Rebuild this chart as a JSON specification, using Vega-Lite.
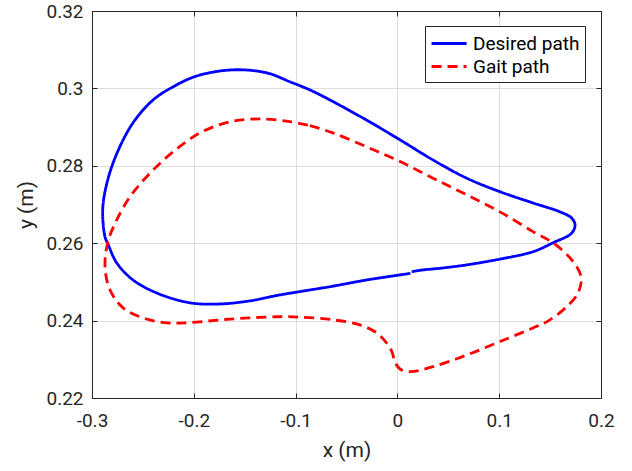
{
  "$schema": "https://vega.github.io/schema/vega-lite/v6.json",
  "width": 509,
  "height": 387,
  "autosize": {"type": "none"},
  "padding": {"left": 92, "top": 11, "right": 31, "bottom": 73},
  "background": "white",
  "config": {
    "view": {"stroke": null},
    "font": "Roboto",
    "axis": {
      "domainColor": "#262626",
      "domainWidth": 1,
      "tickColor": "#262626",
      "tickWidth": 1,
      "tickSize": -5,
      "labelColor": "#262626",
      "labelFont": "Roboto",
      "labelFontSize": 19,
      "titleFont": "Roboto",
      "titleFontSize": 21,
      "titleFontWeight": "normal",
      "titleColor": "#262626",
      "gridColor": "#dedede",
      "gridWidth": 1
    }
  },
  "data": {
    "values": [
      {"series": "Desired path", "i": 0, "x": 0.0140, "y": 0.2526},
      {"series": "Desired path", "i": 1, "x": 0.0222, "y": 0.2530},
      {"series": "Desired path", "i": 2, "x": 0.0448, "y": 0.2536},
      {"series": "Desired path", "i": 3, "x": 0.0681, "y": 0.2544},
      {"series": "Desired path", "i": 4, "x": 0.1008, "y": 0.2559},
      {"series": "Desired path", "i": 5, "x": 0.1332, "y": 0.2578},
      {"series": "Desired path", "i": 6, "x": 0.1528, "y": 0.2601},
      {"series": "Desired path", "i": 7, "x": 0.1712, "y": 0.2626},
      {"series": "Desired path", "i": 8, "x": 0.1745, "y": 0.2647},
      {"series": "Desired path", "i": 9, "x": 0.1712, "y": 0.2665},
      {"series": "Desired path", "i": 10, "x": 0.1597, "y": 0.2681},
      {"series": "Desired path", "i": 11, "x": 0.1332, "y": 0.2704},
      {"series": "Desired path", "i": 12, "x": 0.1008, "y": 0.2733},
      {"series": "Desired path", "i": 13, "x": 0.0681, "y": 0.2768},
      {"series": "Desired path", "i": 14, "x": 0.035, "y": 0.2815},
      {"series": "Desired path", "i": 15, "x": 0.0026, "y": 0.2867},
      {"series": "Desired path", "i": 16, "x": -0.0302, "y": 0.2918},
      {"series": "Desired path", "i": 17, "x": -0.0662, "y": 0.297},
      {"series": "Desired path", "i": 18, "x": -0.0859, "y": 0.2996},
      {"series": "Desired path", "i": 19, "x": -0.1055, "y": 0.3017},
      {"series": "Desired path", "i": 20, "x": -0.1281, "y": 0.304},
      {"series": "Desired path", "i": 21, "x": -0.1615, "y": 0.3048},
      {"series": "Desired path", "i": 22, "x": -0.1972, "y": 0.3032},
      {"series": "Desired path", "i": 23, "x": -0.2204, "y": 0.3004},
      {"series": "Desired path", "i": 24, "x": -0.2401, "y": 0.297},
      {"series": "Desired path", "i": 25, "x": -0.2597, "y": 0.2911},
      {"series": "Desired path", "i": 26, "x": -0.2754, "y": 0.2833},
      {"series": "Desired path", "i": 27, "x": -0.2853, "y": 0.2756},
      {"series": "Desired path", "i": 28, "x": -0.2895, "y": 0.2686},
      {"series": "Desired path", "i": 29, "x": -0.2872, "y": 0.2616},
      {"series": "Desired path", "i": 30, "x": -0.2843, "y": 0.2598},
      {"series": "Desired path", "i": 31, "x": -0.2757, "y": 0.2549},
      {"series": "Desired path", "i": 32, "x": -0.2597, "y": 0.2505},
      {"series": "Desired path", "i": 33, "x": -0.2361, "y": 0.2471},
      {"series": "Desired path", "i": 34, "x": -0.2037, "y": 0.2446},
      {"series": "Desired path", "i": 35, "x": -0.1743, "y": 0.2443},
      {"series": "Desired path", "i": 36, "x": -0.1448, "y": 0.2451},
      {"series": "Desired path", "i": 37, "x": -0.1183, "y": 0.2465},
      {"series": "Desired path", "i": 38, "x": -0.0957, "y": 0.2475},
      {"series": "Desired path", "i": 39, "x": -0.0633, "y": 0.2489},
      {"series": "Desired path", "i": 40, "x": -0.0302, "y": 0.2505},
      {"series": "Desired path", "i": 41, "x": 0.0128, "y": 0.2522},
      {"series": "Gait path", "i": 0, "x": -0.0859, "y": 0.2904},
      {"series": "Gait path", "i": 1, "x": -0.0633, "y": 0.2885},
      {"series": "Gait path", "i": 2, "x": -0.0302, "y": 0.2849},
      {"series": "Gait path", "i": 3, "x": 0.0026, "y": 0.2811},
      {"series": "Gait path", "i": 4, "x": 0.035, "y": 0.2768},
      {"series": "Gait path", "i": 5, "x": 0.0681, "y": 0.2725},
      {"series": "Gait path", "i": 6, "x": 0.1008, "y": 0.2681},
      {"series": "Gait path", "i": 7, "x": 0.1332, "y": 0.263},
      {"series": "Gait path", "i": 8, "x": 0.1528, "y": 0.2601},
      {"series": "Gait path", "i": 9, "x": 0.1712, "y": 0.2557},
      {"series": "Gait path", "i": 10, "x": 0.1804, "y": 0.2513},
      {"series": "Gait path", "i": 11, "x": 0.1774, "y": 0.2471},
      {"series": "Gait path", "i": 12, "x": 0.1663, "y": 0.2436},
      {"series": "Gait path", "i": 13, "x": 0.1499, "y": 0.2402},
      {"series": "Gait path", "i": 14, "x": 0.1332, "y": 0.2381},
      {"series": "Gait path", "i": 15, "x": 0.1008, "y": 0.2346},
      {"series": "Gait path", "i": 16, "x": 0.0681, "y": 0.2311},
      {"series": "Gait path", "i": 17, "x": 0.035, "y": 0.2281},
      {"series": "Gait path", "i": 18, "x": 0.0124, "y": 0.2268},
      {"series": "Gait path", "i": 19, "x": 0.0026, "y": 0.2275},
      {"series": "Gait path", "i": 20, "x": -0.0024, "y": 0.2293},
      {"series": "Gait path", "i": 21, "x": -0.0053, "y": 0.2319},
      {"series": "Gait path", "i": 22, "x": -0.0105, "y": 0.2342},
      {"series": "Gait path", "i": 23, "x": -0.0203, "y": 0.2368},
      {"series": "Gait path", "i": 24, "x": -0.0367, "y": 0.2389},
      {"series": "Gait path", "i": 25, "x": -0.0633, "y": 0.2402},
      {"series": "Gait path", "i": 26, "x": -0.0957, "y": 0.2409},
      {"series": "Gait path", "i": 27, "x": -0.1183, "y": 0.241},
      {"series": "Gait path", "i": 28, "x": -0.1644, "y": 0.2404},
      {"series": "Gait path", "i": 29, "x": -0.2037, "y": 0.2395},
      {"series": "Gait path", "i": 30, "x": -0.2263, "y": 0.2394},
      {"series": "Gait path", "i": 31, "x": -0.2499, "y": 0.2407},
      {"series": "Gait path", "i": 32, "x": -0.2695, "y": 0.2433},
      {"series": "Gait path", "i": 33, "x": -0.2823, "y": 0.2479},
      {"series": "Gait path", "i": 34, "x": -0.2872, "y": 0.2539},
      {"series": "Gait path", "i": 35, "x": -0.2843, "y": 0.2604},
      {"series": "Gait path", "i": 36, "x": -0.2757, "y": 0.266},
      {"series": "Gait path", "i": 37, "x": -0.2627, "y": 0.272},
      {"series": "Gait path", "i": 38, "x": -0.243, "y": 0.2781},
      {"series": "Gait path", "i": 39, "x": -0.2204, "y": 0.2836},
      {"series": "Gait path", "i": 40, "x": -0.1939, "y": 0.2885},
      {"series": "Gait path", "i": 41, "x": -0.1644, "y": 0.2914},
      {"series": "Gait path", "i": 42, "x": -0.135, "y": 0.2921},
      {"series": "Gait path", "i": 43, "x": -0.1055, "y": 0.2914},
      {"series": "Gait path", "i": 44, "x": -0.0859, "y": 0.2904}
    ]
  },
  "layer": [
    {
      "transform": [{"filter": "datum.series == 'Desired path'"}],
      "mark": {"type": "line", "interpolate": "catmull-rom", "strokeWidth": 2.8},
      "encoding": {
        "x": {
          "field": "x", "type": "quantitative",
          "scale": {"domain": [-0.3, 0.2], "nice": false, "zero": false},
          "axis": {
            "orient": "bottom", "title": "x (m)",
            "values": [-0.3, -0.2, -0.1, 0, 0.1, 0.2],
            "labelExpr": "toString(round(datum.value*100)/100)",
            "grid": true, "labelPadding": 18, "titlePadding": 9, "labelFlush": false
          }
        },
        "y": {
          "field": "y", "type": "quantitative",
          "scale": {"domain": [0.22, 0.32], "nice": false, "zero": false},
          "axis": {
            "orient": "left", "title": "y (m)",
            "values": [0.22, 0.24, 0.26, 0.28, 0.3, 0.32],
            "labelExpr": "toString(round(datum.value*100)/100)",
            "grid": true, "labelPadding": 14, "titlePadding": 9, "labelFlush": false
          }
        },
        "order": {"field": "i", "type": "quantitative"},
        "color": {
          "field": "series", "type": "nominal",
          "scale": {"domain": ["Desired path", "Gait path"], "range": ["#0000ff", "#ff0000"]},
          "legend": {
            "title": null,
            "orient": "none",
            "legendX": 333,
            "legendY": 15,
            "strokeColor": "#262626",
            "fillColor": "white",
            "padding": 5,
            "symbolType": "M-1,0H2.2",
            "symbolSize": 480,
            "symbolStrokeWidth": 3,
            "symbolFillColor": "transparent",
            "labelOffset": 18,
            "labelFont": "Roboto",
            "labelFontSize": 19,
            "labelColor": "#000000",
            "rowPadding": 0,
            "labelLimit": 300
          }
        },
        "strokeDash": {
          "field": "series", "type": "nominal",
          "scale": {"domain": ["Desired path", "Gait path"], "range": [[1, 0], [10, 6]]},
          "legend": null
        }
      }
    },
    {
      "transform": [{"filter": "datum.series == 'Gait path'"}],
      "mark": {"type": "line", "interpolate": "catmull-rom", "strokeWidth": 2.8},
      "encoding": {
        "x": {
          "field": "x", "type": "quantitative",
          "scale": {"domain": [-0.3, 0.2], "nice": false, "zero": false},
          "axis": {
            "orient": "top", "title": null, "labels": false, "grid": false,
            "values": [-0.3, -0.2, -0.1, 0, 0.1, 0.2]
          }
        },
        "y": {
          "field": "y", "type": "quantitative",
          "scale": {"domain": [0.22, 0.32], "nice": false, "zero": false},
          "axis": {
            "orient": "right", "title": null, "labels": false, "grid": false,
            "values": [0.22, 0.24, 0.26, 0.28, 0.3, 0.32]
          }
        },
        "order": {"field": "i", "type": "quantitative"},
        "color": {"field": "series", "type": "nominal"},
        "strokeDash": {"field": "series", "type": "nominal", "legend": null}
      }
    }
  ],
  "resolve": {"axis": {"x": "independent", "y": "independent"}}
}
